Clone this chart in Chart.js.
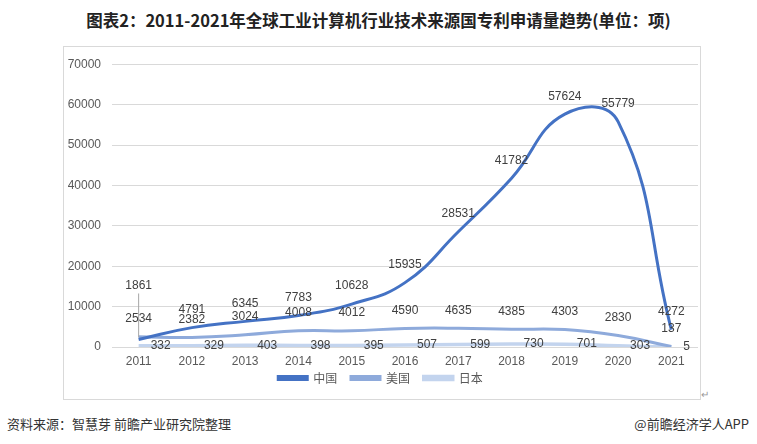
<!DOCTYPE html>
<html lang="zh">
<head>
    <meta charset="UTF-8">
    <title>全球工业计算机行业技术来源国专利申请量趋势</title>
    <script src="https://cdn.jsdelivr.net/npm/chart.js@4.4.0/dist/chart.umd.min.js"></script>
    <style>
        body { margin: 0; width: 757px; height: 444px; background: #fff; position: relative; overflow: hidden;
               font-family: "Noto Sans CJK SC", "Noto Sans", sans-serif; }
        .title { position: absolute; left: 0; top: 8px; width: 757px; text-align: center;
                 font-size: 16.5px; font-weight: bold; color: #222; line-height: 24px; }
        .frame { position: absolute; left: 63px; top: 46px; width: 636px; height: 352px; border: 1px solid #d9d9d9; }
        .chart-box { position: absolute; left: 63px; top: 46px; width: 637px; height: 353px; }
        .src { position: absolute; left: 7px; top: 414px; font-size: 13px; color: #333; }
        .app { position: absolute; right: 8px; top: 414px; font-size: 13px; color: #333; }
        .mark { position: absolute; left: 701px; top: 386px; font-size: 10px; color: #999; }
    </style>
</head>
<body>
    <div class="title">图表2：2011-2021年全球工业计算机行业技术来源国专利申请量趋势(单位：项)</div>
    <div class="frame"></div>
    <div class="chart-box"><canvas id="patentChart"></canvas></div>
    <div class="mark">↵</div>
    <div class="src">资料来源：智慧芽 前瞻产业研究院整理</div>
    <div class="app">@前瞻经济学人APP</div>

    <script>
        const years = ['2011', '2012', '2013', '2014', '2015', '2016', '2017', '2018', '2019', '2020', '2021'];
        const china = [1861, 4791, 6345, 7783, 10628, 15935, 28531, 41782, 57624, 55779, 4272];
        const usa = [2534, 2382, 3024, 4008, 4012, 4590, 4635, 4385, 4303, 2830, 137];
        const japan = [332, 329, 403, 398, 395, 507, 599, 730, 701, 303, 5];

        // value labels like the excel chart: above for 中国/美国, right of point for 日本
        const valueLabels = {
            id: 'valueLabels',
            afterDatasetsDraw(chart) {
                const ctx = chart.ctx;
                ctx.save();
                ctx.font = '12px "Liberation Sans", Arial, sans-serif';
                ctx.fillStyle = '#404040';
                ctx.textBaseline = 'middle';
                chart.data.datasets.forEach((ds, di) => {
                    const meta = chart.getDatasetMeta(di);
                    meta.data.forEach((pt, i) => {
                        const v = ds.data[i];
                        if (di === 2) {
                            ctx.textAlign = 'left';
                            ctx.fillText(v, pt.x + 12, pt.y);
                        } else if (di === 0 && i === 0) {
                            // moved label with leader line
                            ctx.textAlign = 'center';
                            ctx.fillText(v, pt.x, pt.y - 54);
                            ctx.strokeStyle = '#a6a6a6';
                            ctx.lineWidth = 1;
                            ctx.beginPath();
                            ctx.moveTo(pt.x, pt.y - 46);
                            ctx.lineTo(pt.x, pt.y - 2);
                            ctx.stroke();
                        } else {
                            ctx.textAlign = 'center';
                            ctx.fillText(v, pt.x, pt.y - 18);
                        }
                    });
                });
                ctx.restore();
            }
        };

        const tickFont = { family: '"Liberation Sans", Arial, sans-serif', size: 12 };

        new Chart(document.getElementById('patentChart'), {
            type: 'line',
            data: {
                labels: years,
                datasets: [{
                    label: '中国',
                    data: china,
                    borderColor: '#4472C4',
                    backgroundColor: '#4472C4',
                    borderWidth: 3,
                    pointRadius: 0,
                    tension: 0.45
                }, {
                    label: '美国',
                    data: usa,
                    borderColor: '#8EAADB',
                    backgroundColor: '#8EAADB',
                    borderWidth: 3,
                    pointRadius: 0,
                    tension: 0.45
                }, {
                    label: '日本',
                    data: japan,
                    borderColor: '#C3D4EE',
                    backgroundColor: '#C3D4EE',
                    borderWidth: 3.5,
                    pointRadius: 0,
                    tension: 0.45
                }]
            },
            options: {
                responsive: true,
                maintainAspectRatio: false,
                animation: false,
                layout: { padding: { top: 12, right: 2, left: 0, bottom: 5 } },
                scales: {
                    x: {
                        offset: true,
                        grid: { display: false, drawTicks: false },
                        border: { display: false },
                        ticks: { font: tickFont, color: '#595959', padding: 7, maxRotation: 0 },
                        afterFit: function (scale) { scale.height = 22; }
                    },
                    y: {
                        min: 0,
                        max: 70000,
                        grid: { color: '#d9d9d9', drawTicks: false },
                        border: { display: false },
                        ticks: {
                            stepSize: 10000, font: tickFont, color: '#595959', padding: 11,
                            callback: function (v) { return String(v); }
                        },
                        afterFit: function (scale) { scale.width = 49; }
                    }
                },
                plugins: {
                    legend: {
                        position: 'bottom',
                        labels: {
                            boxWidth: 29,
                            boxHeight: 3,
                            padding: 3,
                            color: '#595959',
                            font: { family: '"Noto Sans CJK SC", sans-serif', size: 12 },
                            // extra gap between legend items without making the legend taller
                            generateLabels: function (chart) {
                                const items = Chart.defaults.plugins.legend.labels.generateLabels(chart);
                                items.forEach((it, i) => {
                                    if (i < items.length - 1) it.text += '    ';
                                });
                                return items;
                            }
                        }
                    },
                    tooltip: { enabled: false }
                }
            },
            plugins: [valueLabels]
        });
    </script>
</body>
</html>
